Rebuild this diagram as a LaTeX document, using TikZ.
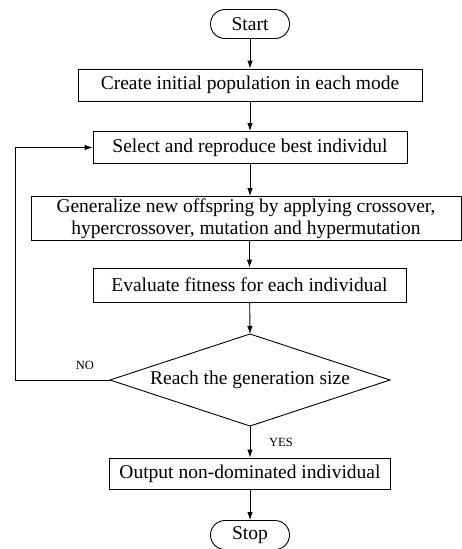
\documentclass[tikz,border=0pt]{standalone}
\usepackage{fontspec}
\setmainfont{Liberation Serif}
\usetikzlibrary{arrows.meta}
\begin{document}
\begin{tikzpicture}[x=1pt,y=-1pt,
  box/.style={draw,line width=0.9pt,inner sep=0pt,font=\fontsize{19.5}{22}\selectfont,align=center},
  pill/.style={box,rounded corners=14.5pt,minimum width=79pt,minimum height=29pt},
  arr/.style={-{Latex[length=8pt,width=5.5pt]},line width=0.9pt},
  lab/.style={font=\fontsize{12.5}{14}\selectfont,inner sep=0pt}]
\useasboundingbox (0,0) rectangle (462,549);
\node[pill] (start) at (250,24) {Start};
\node[box,minimum width=344pt,minimum height=32pt] (create) at (250,85) {Create initial population in each mode};
\node[box,minimum width=314pt,minimum height=32pt] (select) at (250,147.5) {Select and reproduce best individul};
\node[box,minimum width=430pt,minimum height=44pt] (gen) at (246,218.5) {Generalize new offspring by applying crossover,\\hypercrossover, mutation and hypermutation};
\node[box,minimum width=313pt,minimum height=34pt] (eval) at (249.5,285) {Evaluate fitness for each individual};
\coordinate (dtop) at (250,334);
\coordinate (dright) at (390,380);
\coordinate (dbot) at (250,426);
\coordinate (dleft) at (110,380);
\draw[line width=0.9pt] (dtop) -- (dright) -- (dbot) -- (dleft) -- cycle;
\node[box,draw=none] (dec) at (250,380) {Reach the generation size};
\node[box,minimum width=281pt,minimum height=31pt] (out) at (250,473.5) {Output non-dominated individual};
\node[pill] (stop) at (250,535) {Stop};
\coordinate (loop) at (15.7,380);
\node[lab] (no) at (85,365) {NO};
\node[lab] (yes) at (281,442) {YES};
\draw[arr] (start) -- (create);
\draw[arr] (create) -- (select);
\draw[arr] (select) -- (select |- gen.north);
\draw[arr] (gen.south -| eval) -- (eval);
\draw[arr] (eval) -- (dtop);
\draw[arr] (dbot) -- (out);
\draw[arr] (out) -- (stop);
\draw[arr] (dleft) -- (loop) |- (select.west);
\end{tikzpicture}
\end{document}
